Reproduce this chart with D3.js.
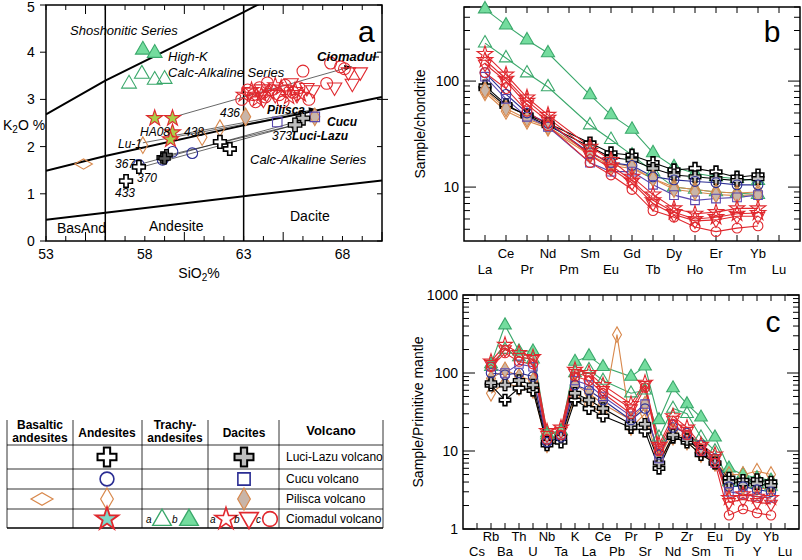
<!DOCTYPE html>
<html><head><meta charset="utf-8">
<script src="https://cdn.jsdelivr.net/npm/d3@7"></script>
<style>
body{margin:0;background:#fff;}
svg text{font-family:"Liberation Sans", Arial, sans-serif;fill:#000;}
</style></head><body>
<svg id="fig" width="802" height="560"></svg>
<script>
// ---- panel a : K2O vs SiO2 ----
const trachyA = [[57.2,3.33],[57.85,3.54],[58.5,3.41],[59.0,3.43]];
const trachyB = [[57.9,4.05],[58.5,3.98]];
const cioAndStar = [[58.5,2.6],[59.4,2.6],[59.4,2.3],[59.3,2.15]];
const cioDacStar = [[63.0,3.1],[63.4,3.2],[63.7,3.0],[64.3,3.15],[64.9,3.25],[65.3,3.05],[65.9,3.1],[64.6,3.3],[63.9,3.1],[65.6,3.2]];
const cioDacTri = [[63.3,3.15],[63.9,3.22],[64.6,3.1],[65.2,3.2],[65.7,3.1],[66.2,3.25],[66.5,3.2],[68.3,3.58],[68.9,3.58],[68.5,3.34],[67.6,3.26],[64.0,3.0],[65.4,3.35]];
const cioDacCirc = [[62.9,3.0],[63.2,3.2],[63.5,3.1],[63.8,3.25],[64.1,3.05],[64.4,3.2],[64.8,3.1],[65.1,3.3],[65.5,3.15],[65.8,3.25],[66.0,3.6],[66.3,3.0],[65.0,2.95],[63.6,2.95],[67.4,3.77],[67.9,3.69],[68.1,3.65],[67.2,3.34],[64.2,3.35]];
const cucuCirc = [[57.7,1.61],[58.9,1.72],[59.4,1.89],[60.4,1.86]];
const cucuSq = [[64.7,2.52],[66.6,2.63]];
const luciCross = [[57.05,1.27],[57.7,1.57],[61.8,2.1],[62.3,1.95]];
const luciDark = [[58.9,1.77],[59.1,1.82],[59.0,1.75]];
const luciDacCross = [[66.0,2.6],[65.6,2.46]];
const pilBas = [[54.9,1.63]];
const pilAnd = [[57.9,2.03],[61.8,2.39],[60.9,2.2]];
const pilDac = [[63.1,2.63],[66.6,2.63]];
const trendLines = [[[59.4,2.62],[68.3,3.68]],[[59.3,2.22],[66.5,2.78]],[[57.9,2.08],[66.5,2.74]],[[57.7,1.62],[66.6,2.63]],[[57.7,1.55],[65.6,2.46]],[[59.0,1.8],[65.6,2.46]]];
const bndThCA = [[53,0.45],[56,0.6],[63,0.95],[70,1.28]];
const bndCAHK = [[53,1.49],[56,1.8],[63,2.45],[70,3.05]];
const bndHKSho = [[53,2.68],[56,3.4],[63,4.85],[66,5.5]];

// ---- panel b : chondrite-normalised REE ----
const reeElems = ['La','Ce','Pr','Nd','Pm','Sm','Eu','Gd','Tb','Dy','Ho','Er','Tm','Yb','Lu'];
const reeGreenB = [478,337,244,184,null,74,48,35,21,15.5,13.5,12.5,12,11.5,null];
const reeGreenA = [228,165,119,88,null,38.5,28,20,14,10,9.5,9,8.8,8.5,null];
const reeRedStar = [180,115,70,48,null,24,18,12.5,8.5,6.3,5.6,5.8,6.3,6.3,null];
const reeRedStar2 = [158,105,65,45,null,22,16,11.5,7.5,5.8,5.0,5.2,5.6,5.7,null];
const reeRedTri = [145,100,60,42,null,20,15,11,7,5.5,4.8,4.9,5.3,5.3,null];
const reeRedCirc = [120,85,52,38,null,17,13,9.5,6,5.2,4.2,3.8,4.1,4.3,null];
const reeBlueCirc = [120,75,50,40,null,21,17,16,12.5,11.7,11.3,11,10.5,10.5,null];
const reeBlueSq = [110,68,46,37,null,17,14,14,10.5,8.4,7.5,7.8,8,8.4,null];
const reeBlackCross = [85,58,48,40,null,26,21,20,17,14.5,15,13.9,12.4,13,null];
const reeGreyCross = [90,60,47,38,null,24,19,18,15,13,12.5,12,11.5,12,null];
const reeOrgDiam = [78,52,42,36,null,20,16,15,12,10,9.5,9,8.8,9,null];
const reeGreyDiam = [82,55,44,37,null,21,17,15.5,12,9.5,9,8.5,8.3,8.5,null];

// ---- panel c : primitive-mantle spidergram ----
const pmElems = ['Cs','Rb','Ba','Th','U','Nb','Ta','K','La','Ce','Pb','Pr','Sr','P','Nd','Zr','Sm','Eu','Ti','Dy','Y','Yb','Lu'];
const pmGreenB = [null,130,410,190,190,17,18,140,165,120,null,90,122,25,64,40,27,15,6,5,4.5,4.2,null];
const pmGreenA = [null,120,200,160,150,16,18,100,110,80,null,55,60,15,35,30,15,10,4,4,3.8,3.5,null];
const pmRedStar = [null,140,230,180,160,18,20,110,100,70,null,40,75,12,28,20,12,9,2.5,2.8,2.6,2.5,null];
const pmRedTri = [null,130,200,160,150,16,18,100,90,60,null,35,70,11,25,18,11,8,2.2,2.4,2.2,2.1,null];
const pmRedCirc = [null,120,180,140,130,14,16,90,80,55,null,30,65,10,22,16,10,7,1.5,1.8,1.6,1.5,null];
const pmBlueCirc = [null,100,95,100,90,13,15,70,60,45,null,25,35,9,20,17,12,8,3.5,3.5,3.2,3,null];
const pmBlueSq = [null,120,100,130,120,14,16,80,70,50,null,28,40,8,22,16,10,7,3,2.8,2.6,2.5,null];
const pmBlackCross = [null,70,45,64,60,12,13,45,35,28,null,20,18,6,15,13,9,7,4.5,4.2,4.3,4,null];
const pmGreyCross = [null,75,70,80,70,13,15,55,45,35,null,22,22,7,16,14,10,7,4,3.8,3.8,3.6,null];
const pmOrgDiam = [null,55,75,65,60,12,14,50,40,30,310,20,30,7,15,13,9,7,5,5,5.5,5,null];
const pmGreyDiam = [null,85,110,90,80,14,15,70,55,40,null,25,40,8,18,14,10,7,3.5,3.5,3.4,3.2,null];

const RED = '#e0282e', BLUE = '#2a2d93', PURP = '#5a48b0', GRN = '#3aa86b', GFILL = '#74dc9e',
      ORG = '#d8884c', DGREY = '#c9b5a8', CGREY = '#bdbdbd', SFILL = '#a8cf48';

const svg = d3.select('#fig');
const shapes = { circle: d3.symbolCircle, square: d3.symbolSquare, tri: d3.symbolTriangle,
                 star: d3.symbolStar, cross: d3.symbolCross, diamond: d3.symbolDiamond };

function mark(g, st, x, y, size) {
  let type = st.shape, rot = 0;
  if (type === 'dtri') { type = 'tri'; rot = 180; }
  if (type === 'wdiamond') { type = 'diamond'; rot = 90; }
  g.append('path')
    .attr('d', d3.symbol().type(shapes[type]).size(size || st.size || 80)())
    .attr('transform', `translate(${x},${y}) rotate(${rot})`)
    .attr('fill', st.fill || 'none')
    .attr('stroke', st.stroke)
    .attr('stroke-width', st.sw || 1.1);
}

const S = {
  triA: { shape: 'tri', stroke: GRN, fill: 'none' },
  triB: { shape: 'tri', stroke: GRN, fill: GFILL },
  star: { shape: 'star', stroke: RED, fill: SFILL },
  starO: { shape: 'star', stroke: RED },
  dtri: { shape: 'dtri', stroke: RED },
  circR: { shape: 'circle', stroke: RED },
  circB: { shape: 'circle', stroke: BLUE },
  sqB: { shape: 'square', stroke: PURP },
  cross: { shape: 'cross', stroke: '#000', fill: '#fff', sw: 1.6 },
  crossD: { shape: 'cross', stroke: '#000', fill: '#555', sw: 1.2 },
  crossG: { shape: 'cross', stroke: '#000', fill: CGREY, sw: 1.3 },
  diam: { shape: 'diamond', stroke: ORG },
  diamG: { shape: 'diamond', stroke: ORG, fill: DGREY },
  wdiam: { shape: 'wdiamond', stroke: ORG }
};

// ================= PANEL A =================
const xA = d3.scaleLinear().domain([53, 70]).range([46, 382]);
const yA = d3.scaleLinear().domain([0, 5]).range([241, 5]);
const gA = svg.append('g');
svg.append('clipPath').attr('id', 'clipA').append('rect')
  .attr('x', 46).attr('y', 5).attr('width', 336).attr('height', 236);
const lineA = d3.line().x(d => xA(d[0])).y(d => yA(d[1]));
const inA = gA.append('g').attr('clip-path', 'url(#clipA)');
[bndThCA, bndCAHK, bndHKSho].forEach(b =>
  inA.append('path').attr('d', lineA(b)).attr('fill', 'none').attr('stroke', '#000').attr('stroke-width', 2));
[56, 63].forEach(v => inA.append('line').attr('x1', xA(v)).attr('x2', xA(v))
  .attr('y1', 5).attr('y2', 241).attr('stroke', '#000').attr('stroke-width', 1.5));
trendLines.forEach(t => inA.append('path').attr('d', lineA(t)).attr('stroke', '#000')
  .attr('stroke-width', 0.6).attr('fill', 'none'));
// arrow heads
[[68.3, 3.68], [66.5, 2.78], [65.6, 2.46]].forEach(p => inA.append('path')
  .attr('d', 'M-4,-3L4,0L-4,3Z').attr('transform', `translate(${xA(p[0])},${yA(p[1])}) rotate(-8)`)
  .attr('fill', '#000'));

gA.append('rect').attr('x', 46).attr('y', 5).attr('width', 336).attr('height', 236)
  .attr('fill', 'none').attr('stroke', '#000').attr('stroke-width', 1.5);
d3.range(53, 71).forEach(v => {
  const len = v % 5 === 0 ? 9 : 5;
  gA.append('line').attr('x1', xA(v)).attr('x2', xA(v)).attr('y1', 241).attr('y2', 241 - len).attr('stroke', '#000');
  gA.append('line').attr('x1', xA(v)).attr('x2', xA(v)).attr('y1', 5).attr('y2', 5 + len).attr('stroke', '#000');
});
[0, 1, 2, 3, 4, 5].forEach(v => {
  gA.append('line').attr('x1', 40).attr('x2', 46).attr('y1', yA(v)).attr('y2', yA(v)).attr('stroke', '#000');
  gA.append('line').attr('x1', 382).attr('x2', 377).attr('y1', yA(v)).attr('y2', yA(v)).attr('stroke', '#000');
  gA.append('text').attr('x', 31).attr('y', Math.max(yA(v) + 5, 12)).attr('text-anchor', 'middle')
    .attr('font-size', 14).text(v);
});
gA.append('line').attr('x1', 382).attr('x2', 388).attr('y1', yA(3)).attr('y2', yA(3)).attr('stroke', '#000');
[53, 58, 63, 68].forEach(v => gA.append('text').attr('x', xA(v)).attr('y', 259)
  .attr('text-anchor', 'middle').attr('font-size', 14).text(v));
gA.append('text').attr('x', 199).attr('y', 278).attr('text-anchor', 'middle').attr('font-size', 14)
  .html('SiO<tspan font-size="10" dy="3">2</tspan><tspan dy="-3">%</tspan>');
gA.append('text').attr('x', 3).attr('y', 130).attr('font-size', 14)
  .html('K<tspan font-size="10" dy="3">2</tspan><tspan dy="-3">O %</tspan>');

// data marks
const ptsA = [
  [trachyA, S.triA, 95], [trachyB, S.triB, 95], [cioDacCirc, S.circR, 110], [cioDacTri, S.dtri, 90],
  [cioDacStar, S.starO, 70], [cioAndStar, S.star, 80], [pilBas, S.wdiam, 90], [pilAnd, S.diam, 80],
  [pilDac, S.diamG, 90], [cucuSq, S.sqB, 90], [cucuCirc, S.circB, 90], [luciCross, S.cross, 90],
  [luciDark, S.crossD, 70], [luciDacCross, S.crossG, 100]
];
ptsA.forEach(([arr, st, sz]) => arr.forEach(d => mark(gA, st, xA(d[0]), yA(d[1]), sz)));

const labA = (x, y, t, o = {}) => gA.append('text').attr('x', x).attr('y', y)
  .attr('font-size', o.size || 12).attr('font-style', o.upright ? 'normal' : 'italic')
  .attr('font-weight', o.bold ? 'bold' : 'normal').attr('text-anchor', o.anchor || 'start').text(t);
labA(70, 35, 'Shoshonitic Series', { size: 13 });
labA(168, 61, 'High-K', { size: 13 });
labA(168, 77, 'Calc-Alkaline Series', { size: 13 });
labA(250, 164, 'Calc-Alkaline Series', { size: 13 });
labA(57, 233, 'BasAnd', { upright: true, size: 14 });
labA(149, 231, 'Andesite', { upright: true, size: 14 });
labA(290, 221, 'Dacite', { upright: true, size: 14 });
labA(358, 42, 'a', { upright: true, size: 30 });
labA(317, 61, 'Ciomadul', { bold: true, size: 13 });
gA.append('line').attr('x1', 372).attr('x2', 379).attr('y1', 57).attr('y2', 57).attr('stroke', '#000');
labA(267, 114, 'Pilisca', { bold: true, size: 12 });
labA(327, 126, 'Cucu', { bold: true, size: 12 });
labA(292, 140, 'Luci-Lazu', { bold: true, size: 12 });
labA(272, 140, '373');
labA(220, 117, '436');
labA(184, 136, '438');
labA(140, 136, 'HA08');
labA(118, 148, 'Lu-1');
labA(115, 168, '367');
labA(137, 182, '370');
labA(115, 197, '433');

// ================= shared for B & C =================
function seriesStyle(st) {
  const lc = { triA: GRN, triB: GRN, star: RED, starO: RED, dtri: RED, circR: RED, circB: BLUE,
               sqB: PURP, cross: '#000', crossG: '#000', diam: ORG, diamG: ORG }[st];
  return { st: S[st], line: lc };
}
function drawSpider(g, x, y, list, size) {
  list.forEach(([vals, key]) => {
    const ss = seriesStyle(key);
    const pts = x.domain().map((e, i) => [e, vals[i]]).filter(d => d[1] != null);
    g.append('path').attr('d', d3.line().x(d => x(d[0])).y(d => y(d[1]))(pts))
      .attr('fill', 'none').attr('stroke', ss.line).attr('stroke-width', 1.1);
  });
  list.forEach(([vals, key]) => {
    const ss = seriesStyle(key);
    x.domain().forEach((e, i) => { if (vals[i] != null) mark(g, ss.st, x(e), y(vals[i]), size); });
  });
}
function logFrame(g, x, y, x0, x1, y0, y1, elems, labY) {
  g.append('rect').attr('x', x0).attr('y', y0).attr('width', x1 - x0).attr('height', y1 - y0)
    .attr('fill', 'none').attr('stroke', '#000').attr('stroke-width', 1.5);
  const [lo, hi] = y.domain();
  for (let d = 1; d <= 1000; d *= 10) for (let m = 1; m < 10; m++) {
    const v = d * m;
    if (v < lo || v > hi) continue;
    const len = m === 1 ? 12 : 6;
    g.append('line').attr('x1', x0).attr('x2', x0 + len).attr('y1', y(v)).attr('y2', y(v)).attr('stroke', '#000');
    g.append('line').attr('x1', x1).attr('x2', x1 - len).attr('y1', y(v)).attr('y2', y(v)).attr('stroke', '#000');
    if (m === 1) g.append('text').attr('x', x0 - 5).attr('y', y(v) + 5).attr('text-anchor', 'end')
      .attr('font-size', 14).text(v);
  }
  elems.forEach((e, i) => {
    g.append('line').attr('x1', x(e)).attr('x2', x(e)).attr('y1', y0).attr('y2', y0 + 6).attr('stroke', '#000');
    g.append('line').attr('x1', x(e)).attr('x2', x(e)).attr('y1', y1).attr('y2', y1 - 6).attr('stroke', '#000');
    g.append('text').attr('x', x(e)).attr('y', i % 2 ? labY[0] : labY[1]).attr('text-anchor', 'middle')
      .attr('font-size', 13).text(e);
  });
}

// ================= PANEL B =================
const xB = d3.scalePoint().domain(reeElems).range([464, 800]).padding(1);
const yB = d3.scaleLog().domain([3.1, 500]).range([241, 7]);
const gB = svg.append('g');
logFrame(gB, xB, yB, 464, 800, 7, 241, reeElems, [258, 274]);
drawSpider(gB, xB, yB, [
  [reeGreenB, 'triB'], [reeGreenA, 'triA'], [reeBlackCross, 'cross'], [reeGreyCross, 'crossG'],
  [reeOrgDiam, 'diam'], [reeGreyDiam, 'diamG'], [reeBlueCirc, 'circB'], [reeBlueSq, 'sqB'],
  [reeRedCirc, 'circR'], [reeRedTri, 'dtri'], [reeRedStar2, 'starO'], [reeRedStar, 'starO']
], 75);
gB.append('text').attr('transform', 'translate(425,124) rotate(-90)').attr('text-anchor', 'middle')
  .attr('font-size', 14).text('Sample/chondrite');
gB.append('text').attr('x', 772).attr('y', 42).attr('text-anchor', 'middle').attr('font-size', 30).text('b');

// ================= PANEL C =================
const xC = d3.scalePoint().domain(pmElems).range([463, 799]).padding(1);
const yC = d3.scaleLog().domain([1, 1000]).range([529, 295]);
const gC = svg.append('g');
logFrame(gC, xC, yC, 463, 799, 295, 529, pmElems, [541, 556]);
drawSpider(gC, xC, yC, [
  [pmGreenB, 'triB'], [pmGreenA, 'triA'], [pmOrgDiam, 'diam'], [pmGreyDiam, 'diamG'],
  [pmBlackCross, 'cross'], [pmGreyCross, 'crossG'], [pmBlueCirc, 'circB'], [pmBlueSq, 'sqB'],
  [pmRedCirc, 'circR'], [pmRedTri, 'dtri'], [pmRedStar, 'starO']
], 70);
gC.append('text').attr('transform', 'translate(423,412) rotate(-90)').attr('text-anchor', 'middle')
  .attr('font-size', 14).text('Sample/Primitive mantle');
gC.append('text').attr('x', 773).attr('y', 332).attr('text-anchor', 'middle').attr('font-size', 30).text('c');

// ================= LEGEND TABLE =================
const gL = svg.append('g');
const cols = [7, 73, 142, 208, 279, 383];
const rows = [445, 469, 489, 509, 528];
rows.forEach((r, i) => gL.append('line').attr('x1', 7).attr('x2', 383).attr('y1', r).attr('y2', r)
  .attr('stroke', '#000').attr('stroke-width', i === rows.length - 1 ? 1.5 : 0.8));
cols.forEach(c => gL.append('line').attr('x1', c).attr('x2', c).attr('y1', 420)
  .attr('y2', 528).attr('stroke', '#000').attr('stroke-width', 0.8));
const hdr = (x, y, t, s) => gL.append('text').attr('x', x).attr('y', y).attr('text-anchor', 'middle')
  .attr('font-size', s || 12).attr('font-weight', 'bold').text(t);
hdr(40, 429, 'Basaltic'); hdr(40, 442, 'andesites');
hdr(107, 437, 'Andesites');
hdr(175, 429, 'Trachy-'); hdr(175, 442, 'andesites');
hdr(244, 437, 'Dacites');
hdr(331, 435, 'Volcano', 13);
['Luci-Lazu volcano', 'Cucu volcano', 'Pilisca volcano', 'Ciomadul volcano'].forEach((t, i) =>
  gL.append('text').attr('x', 286).attr('y', [461, 483, 503, 523][i]).attr('font-size', 12).text(t));
mark(gL, { shape: 'cross', stroke: '#000', fill: '#fff', sw: 2 }, 107, 457, 200);
mark(gL, { shape: 'cross', stroke: '#000', fill: CGREY, sw: 2 }, 244, 457, 200);
mark(gL, { shape: 'circle', stroke: BLUE, sw: 1.6 }, 107, 479, 150);
mark(gL, { shape: 'square', stroke: BLUE, sw: 1.6 }, 244, 479, 150);
mark(gL, { shape: 'wdiamond', stroke: ORG, sw: 1.2 }, 42, 499, 140);
mark(gL, { shape: 'diamond', stroke: ORG, sw: 1.2 }, 107, 499, 140);
mark(gL, { shape: 'diamond', stroke: ORG, fill: DGREY, sw: 1.2 }, 244, 499, 140);
mark(gL, { shape: 'star', stroke: RED, fill: '#7fd8c8', sw: 1.8 }, 107, 519, 160);
mark(gL, { shape: 'tri', stroke: GRN, sw: 1.4 }, 162, 520, 150);
mark(gL, { shape: 'tri', stroke: GRN, fill: GFILL, sw: 1.4 }, 189, 520, 150);
mark(gL, { shape: 'star', stroke: RED, sw: 1.6 }, 226, 519, 150);
mark(gL, { shape: 'dtri', stroke: RED, sw: 1.6 }, 249, 518, 150);
mark(gL, { shape: 'circle', stroke: RED, sw: 1.6 }, 270, 519, 170);
[[146, 523, 'a'], [172, 523, 'b'], [210, 523, 'a'], [234, 523, 'b'], [256, 523, 'c']].forEach(d =>
  gL.append('text').attr('x', d[0]).attr('y', d[1]).attr('font-size', 10).attr('font-style', 'italic').text(d[2]));
</script></body></html>
